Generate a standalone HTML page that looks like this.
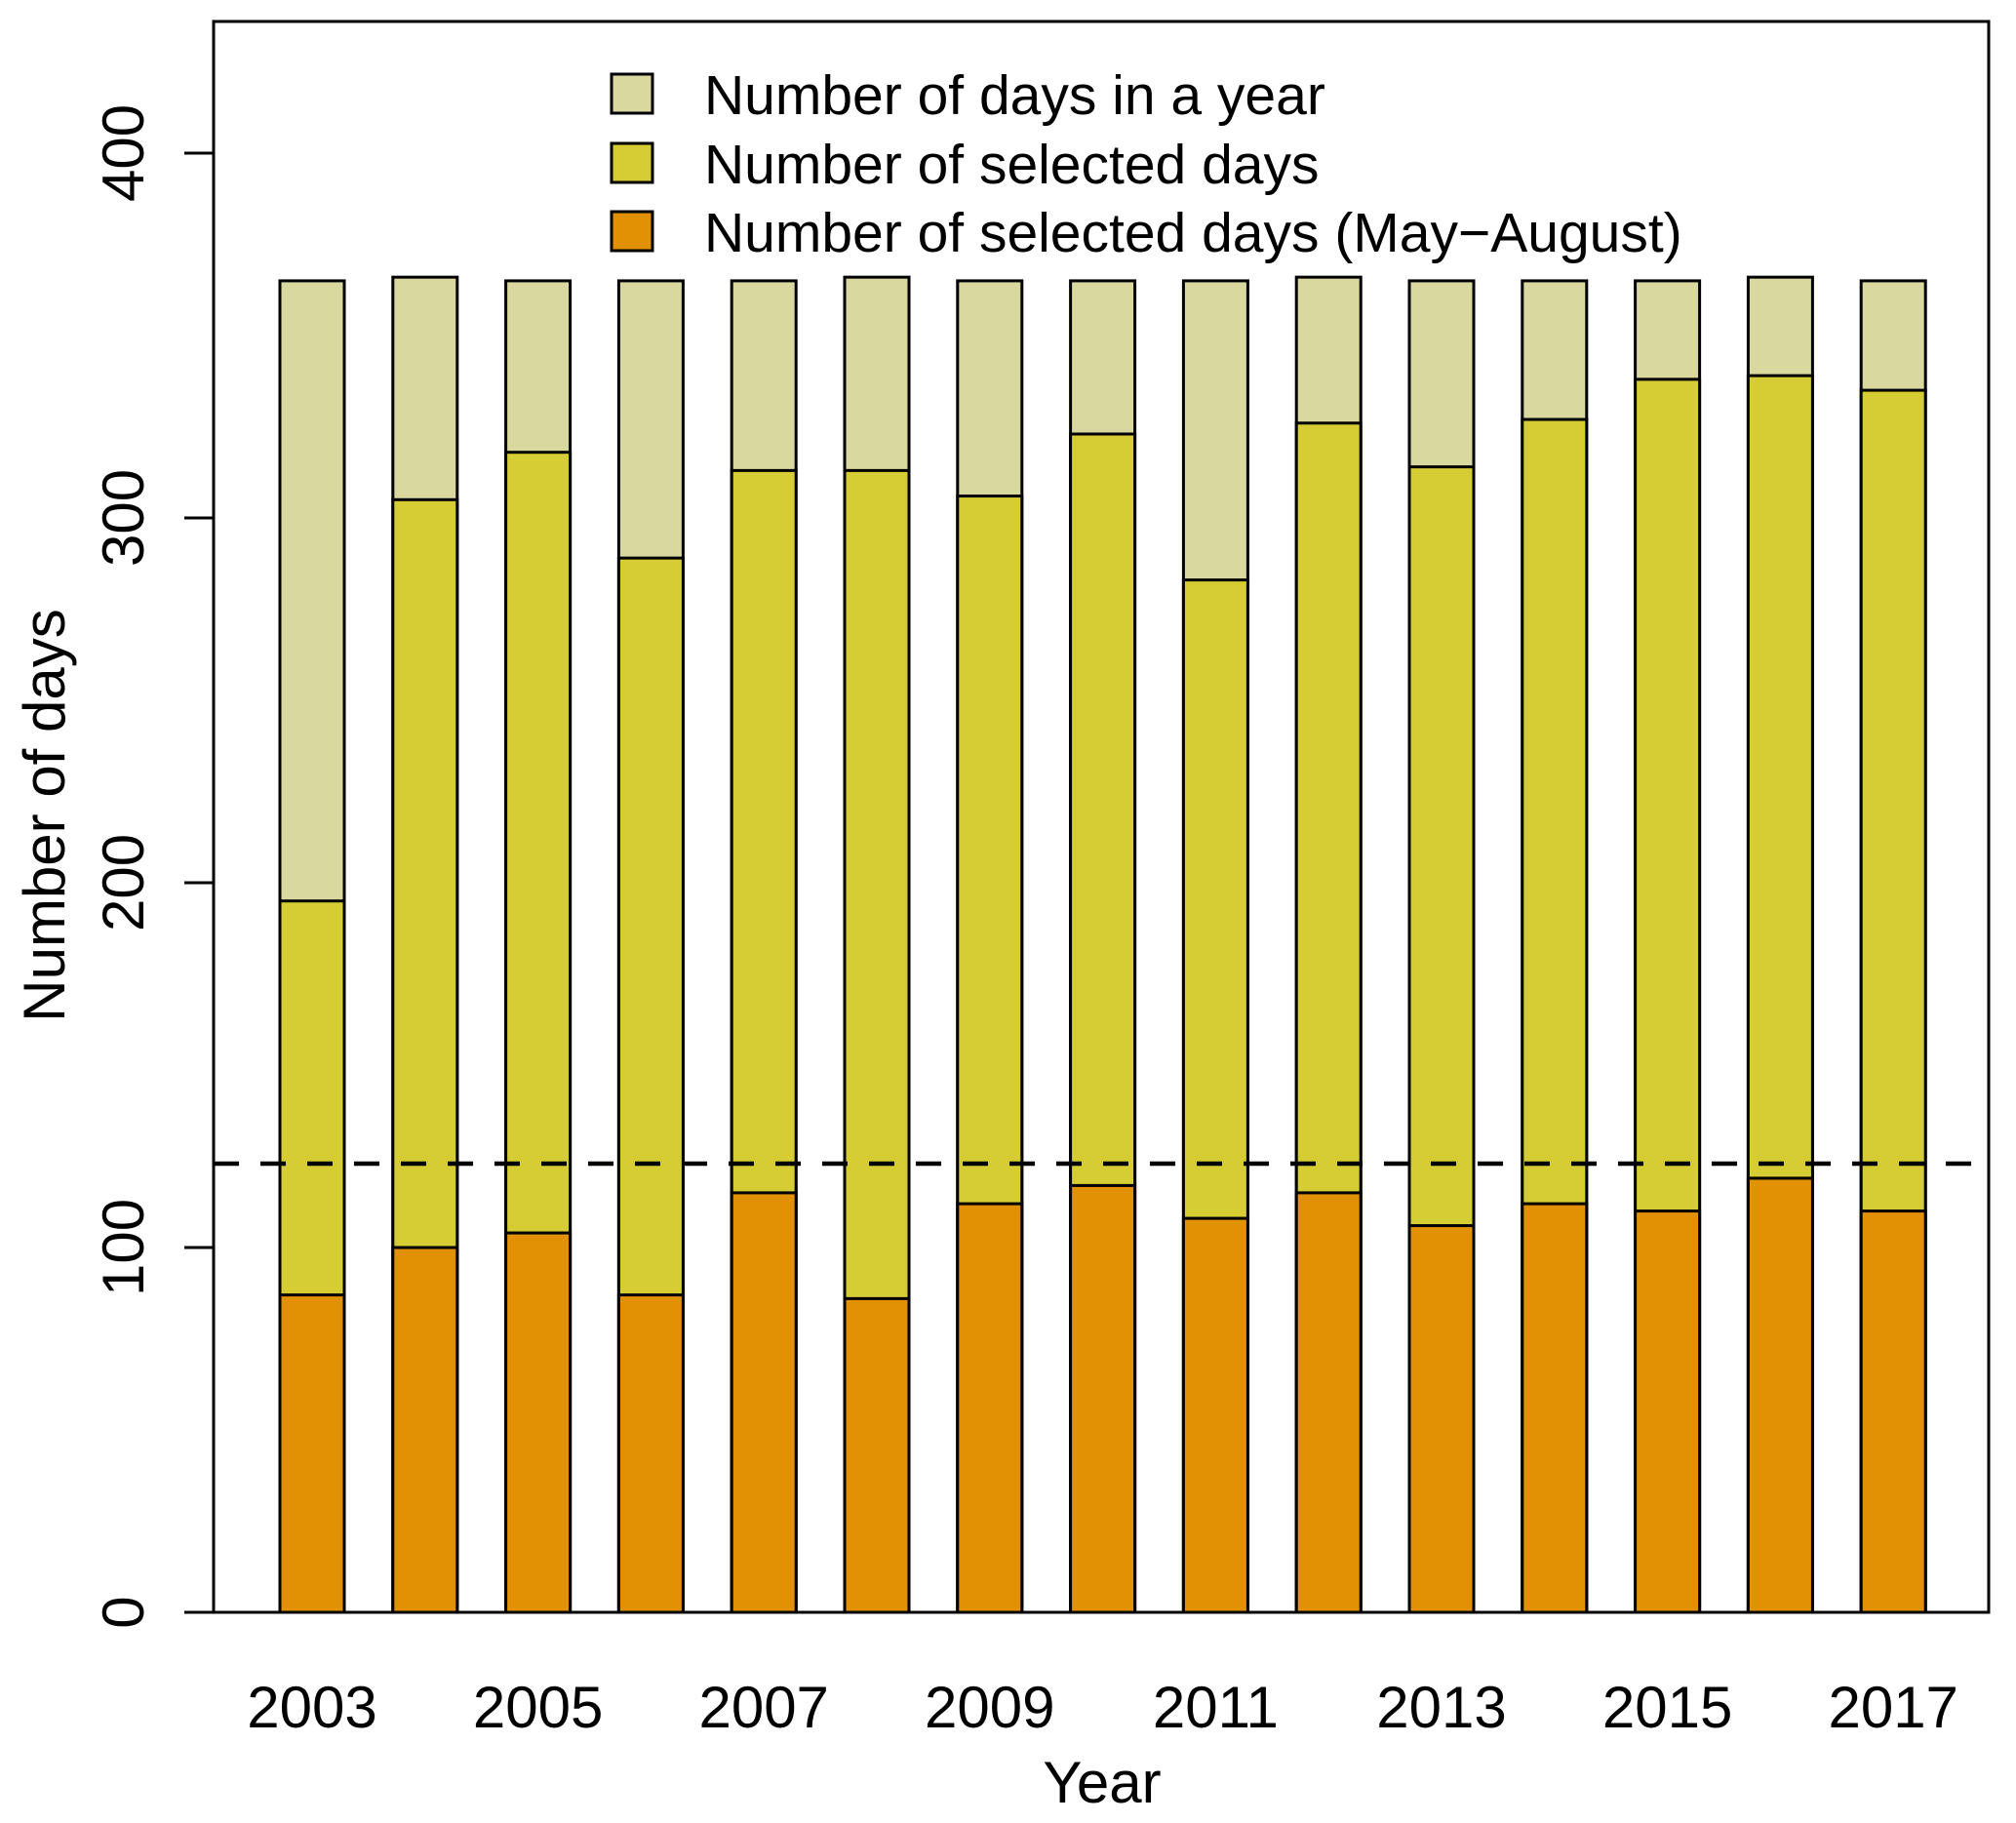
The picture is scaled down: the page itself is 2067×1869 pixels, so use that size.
<!DOCTYPE html>
<html><head><meta charset="utf-8"><style>
html,body{margin:0;padding:0;background:#fff}
svg{display:block;font-family:"Liberation Sans",Arial,sans-serif}
</style></head><body>
<svg id="chart" width="2067" height="1869" viewBox="0 0 2067 1869" xmlns="http://www.w3.org/2000/svg"></svg>
<script>
const years=[2003,2004,2005,2006,2007,2008,2009,2010,2011,2012,2013,2014,2015,2016,2017];
const daysInYear=[365,366,365,365,365,366,365,365,365,366,365,365,365,366,365];
const selectedDays=[195,305,318,289,313,313,306,323,283,326,314,327,338,339,335];
const selectedMayAug=[87,100,104,87,115,86,112,117,108,115,106,112,110,119,110];
const yTicks=[0,100,200,300,400];
const thresholdValue=123;
const legendLabels=["Number of days in a year","Number of selected days","Number of selected days (May\u2212August)"];
const colors=["#d9d99f","#d5cd33","#e29105"];

const svg=document.getElementById('chart');
const NS="http://www.w3.org/2000/svg";
const L=219,R=2039,T=22,B=1653;
const y0=1653,pxPerUnit=3.74;
function yScale(v){return y0-v*pxPerUnit;}
const x0=320,pitch=115.8,bw=66;
function xScale(i){return x0+i*pitch;}
function mk(tag,attrs,parent){const e=document.createElementNS(NS,tag);for(const k in attrs)e.setAttribute(k,attrs[k]);(parent||svg).appendChild(e);return e;}

const gBars=mk('g',{});


years.forEach((yr,i)=>{
  const cx=xScale(i);
  const segs=[[daysInYear[i],colors[0],'total'],[selectedDays[i],colors[1],'selected'],[selectedMayAug[i],colors[2],'may-aug']];
  segs.forEach(s=>{
    const r=mk('rect',{x:cx-bw/2,y:yScale(s[0]),width:bw,height:yScale(0)-yScale(s[0]),fill:s[1],stroke:'#000','stroke-width':3},gBars);
    
    
  });
});

const dl=mk('line',{x1:L,x2:R,y1:yScale(thresholdValue),y2:yScale(thresholdValue),stroke:'#000','stroke-width':4.5,'stroke-dasharray':'26,22'});



const box=mk('rect',{x:L,y:T,width:R-L,height:B-T,fill:'none',stroke:'#000','stroke-width':3});


const xa=mk('line',{x1:189,x2:R,y1:B,y2:B,stroke:'#000','stroke-width':3});



yTicks.forEach(t=>{
  const y=yScale(t);
  const tk=mk('line',{x1:189,x2:L,y1:y,y2:y,stroke:'#000','stroke-width':3});
  
  
  const tx=mk('text',{x:0,y:0,transform:`translate(147,${y}) rotate(-90)`,'text-anchor':'middle','font-size':60});
  tx.textContent=t;
  
  
});
years.forEach((yr,i)=>{
  if(i%2!==0)return;
  const tx=mk('text',{x:xScale(i),y:1771,'text-anchor':'middle','font-size':60});
  tx.textContent=yr;
  
  
});
const xt=mk('text',{x:1130,y:1848,'text-anchor':'middle','font-size':60});
xt.textContent='Year';


const yt=mk('text',{x:0,y:0,transform:'translate(66,836) rotate(-90)','text-anchor':'middle','font-size':60});
yt.textContent='Number of days';



const lg=mk('g',{});


const ly=[96,167,237];
legendLabels.forEach((lab,i)=>{
  const r=mk('rect',{x:627,y:ly[i]-20,width:42,height:40,fill:colors[i],stroke:'#000','stroke-width':3},lg);
  
  
  const t=mk('text',{x:722,y:ly[i]+21,'font-size':57},lg);
  t.textContent=lab;
  
  
});
</script>
</body></html>
